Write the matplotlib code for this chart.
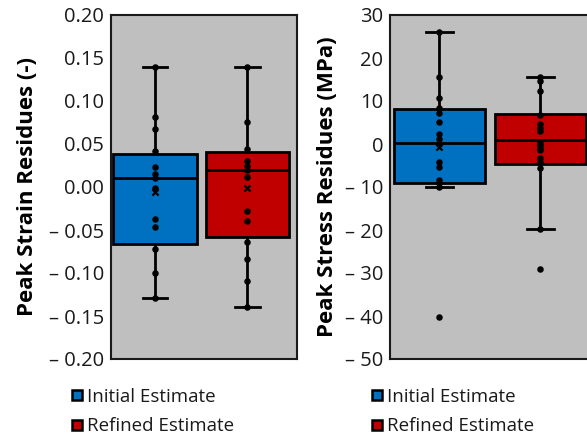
import matplotlib
matplotlib.use("Agg")
import matplotlib.pyplot as plt
from matplotlib.ticker import FuncFormatter, MultipleLocator
from matplotlib.lines import Line2D

plt.rcParams['font.family'] = ['Open Sans', 'DejaVu Sans']

categories = ["Initial Estimate", "Refined Estimate"]
colors = ["#0070C0", "#C00000"]

# Peak strain residues (-)
strain_initial = [0.139, 0.081, 0.067, 0.042, 0.023, 0.015, 0.010, -0.001, -0.037, -0.046, -0.072, -0.100, -0.129]
strain_refined = [0.139, 0.075, 0.044, 0.030, 0.024, 0.020, 0.012, -0.028, -0.040, -0.064, -0.084, -0.109, -0.1395]
strain_q1 = [-0.066, -0.058]
strain_med = [0.0105, 0.0198]
strain_q3 = [0.038, 0.0403]
strain_whislo = [-0.129, -0.1395]
strain_whishi = [0.139, 0.139]
strain_mean = [-0.0055, -0.0008]

# Peak stress residues (MPa)
stress_initial = [26.0, 15.6, 10.6, 8.3, 7.3, 5.2, 2.3, 1.1, 0.0, -4.3, -5.3, -8.4, -9.0, -10.0, -40.2]
stress_refined = [15.5, 14.6, 12.4, 6.7, 4.65, 3.8, 3.0, 0.16, -0.6, -1.5, -3.3, -4.3, -5.65, -19.7, -29.1]
stress_q1 = [-9.07, -4.7]
stress_med = [0.16, 0.86]
stress_q3 = [8.07, 7.05]
stress_whislo = [-10.0, -19.7]
stress_whishi = [26.0, 15.5]
stress_mean = [-0.6, -0.6]

W, H = 587, 436
fig = plt.figure(figsize=(W / 100, H / 100), dpi=100)

def minus_fmt(decimals):
    def f(v, pos):
        s = f"{abs(v):.{decimals}f}"
        if round(v, decimals + 2) < 0:
            return "\u2013 " + s
        return s
    return FuncFormatter(f)

def panel(rect, points, q1, med, q3, wlo, whi, mean, ylim, step, decimals, ylabel, xlim, lpad):
    ax = fig.add_axes(rect)
    ax.set_facecolor("#BFBFBF")
    stats = []
    for i in range(2):
        stats.append(dict(q1=q1[i], med=med[i], q3=q3[i], whislo=wlo[i], whishi=whi[i],
                          mean=mean[i], fliers=[], label=categories[i]))
    bp = ax.bxp(stats, positions=[1, 2], widths=0.9, patch_artist=True, showmeans=False,
                showfliers=False,
                boxprops=dict(linewidth=2.0, edgecolor="black"),
                medianprops=dict(color="black", linewidth=2.0),
                whiskerprops=dict(color="black", linewidth=2.0),
                capprops=dict(color="black", linewidth=2.0),
                capwidths=0.27, zorder=2)
    for patch, c in zip(bp['boxes'], colors):
        patch.set_facecolor(c)
    for i, pts in enumerate(points):
        ax.scatter([i + 1] * len(pts), pts, s=22, color="black", zorder=4, linewidths=0)
        ax.scatter([i + 1], [mean[i]], marker="x", s=20, color="black", linewidths=1.6, zorder=5)
    ax.set_ylim(*ylim)
    ax.set_xlim(*xlim)
    ax.yaxis.set_major_locator(MultipleLocator(step))
    ax.yaxis.set_major_formatter(minus_fmt(decimals))
    ax.tick_params(axis='y', length=0, pad=5, labelsize=14.5, labelcolor="#1a1a1a")
    ax.set_xticks([])
    for sp in ax.spines.values():
        sp.set_linewidth(1.5)
        sp.set_color("#1a1a1a")
    ax.set_ylabel(ylabel, fontsize=16, fontweight="bold", labelpad=lpad)
    for lab in ax.get_yticklabels():
        lab.set_verticalalignment('center_baseline')
    return ax

ax1 = panel([111 / W, 1 - 359 / H, 186 / W, 344 / H], [strain_initial, strain_refined],
            strain_q1, strain_med, strain_q3, strain_whislo, strain_whishi, strain_mean,
            (-0.2, 0.2), 0.05, 2, "Peak Strain Residues (-)", (0.523, 2.538), 8)
ax2 = panel([390 / W, 1 - 359 / H, 204 / W, 344 / H], [stress_initial, stress_refined],
            stress_q1, stress_med, stress_q3, stress_whislo, stress_whishi, stress_mean,
            (-50, 30), 10, 0, "Peak Stress Residues (MPa)", (0.512, 2.53), 5)

handles = [Line2D([], [], linestyle="none", marker="s", markersize=7, markerfacecolor=c,
                  markeredgecolor="black", markeredgewidth=1.8) for c in colors]
for x0 in (71 / W, 371 / W):
    fig.legend(handles, categories, loc="upper left", bbox_to_anchor=(x0, 1 - 388 / H),
               frameon=False, fontsize=13.5, handlelength=0.6, handletextpad=0.25,
               labelspacing=0.6, borderpad=0, borderaxespad=0, labelcolor="#1a1a1a")

fig.savefig("out.png", dpi=100)
